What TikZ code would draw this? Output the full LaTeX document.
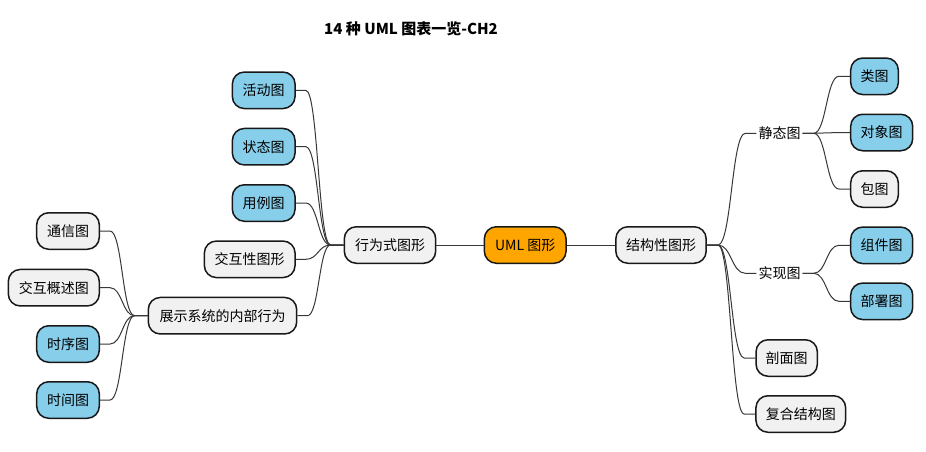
\documentclass[tikz,border=0pt]{standalone}
\usepackage{fontspec}
\setmainfont{Noto Sans CJK SC}
\usetikzlibrary{calc}
\definecolor{boxblue}{HTML}{87CEEB}
\definecolor{boxgray}{HTML}{F1F1F1}
\definecolor{boxorange}{HTML}{FFA500}
\definecolor{edgecol}{HTML}{181818}
\definecolor{conncol}{HTML}{383838}
\tikzset{
  box/.style={draw=edgecol, line width=1.5pt, rounded corners=12pt, minimum height=36.5pt,
    inner sep=0pt, font=\fontsize{14}{16}\selectfont, text=black},
  gbox/.style={box, fill=boxgray},
  bbox/.style={box, fill=boxblue},
  obox/.style={box, fill=boxorange},
  plain/.style={inner xsep=2pt, inner ysep=4pt, font=\fontsize{14}{16}\selectfont, text=black},
  conn/.style={draw=conncol, line width=1pt},
}
% right-going link: parent #1 to child #2
\newcommand\rlink[2]{\draw[conn] let \p1=($(#1.east)+(11,0)$), \p2=($(#2.west)+(-11,0)$) in
  (#1.east) -- (\p1) .. controls (\x1/2+\x2/2,\y1) and (\x1/2+\x2/2,\y2) .. (\p2) -- (#2.west);}
% left-going link: parent #1 to child #2
\newcommand\llink[2]{\draw[conn] let \p1=($(#1.west)+(-13,0)$), \p2=($(#2.east)+(10,0)$) in
  (#1.west) -- (\p1) .. controls (\x1/2+\x2/2,\y1) and (\x1/2+\x2/2,\y2) .. (\p2) -- (#2.east);}
\begin{document}
\begin{tikzpicture}[x=1pt,y=-1pt]
\useasboundingbox (0,0) rectangle (926,451);
\fill[white] (0,0) rectangle (926,451);

\node[font=\bfseries\fontsize{15}{18}\selectfont] (title) at (411,29) {14 种 UML 图表一览-CH2};

% centre
\node[obox, minimum width=81.7pt] (uml) at (525.2,245) {UML 图形};
\node[gbox, minimum width=91.4pt] (beh) at (390,245) {行为式图形};
\node[gbox, minimum width=90.3pt] (str) at (661,245) {结构性图形};

% behavioural side
\node[bbox, minimum width=62.7pt] (act) at (263.7,90.3) {活动图};
\node[bbox, minimum width=62.7pt] (sta) at (263.7,146.7) {状态图};
\node[bbox, minimum width=62.7pt] (use) at (263.7,203) {用例图};
\node[gbox, minimum width=90.7pt] (int) at (249.7,259.3) {交互性图形};
\node[gbox, minimum width=148.4pt] (sys) at (222.5,315.7) {展示系统的内部行为};

\node[gbox, minimum width=62.6pt] (com) at (68,231) {通信图};
\node[gbox, minimum width=91pt] (ovw) at (53.8,287.7) {交互概述图};
\node[bbox, minimum width=62.6pt] (seq) at (68,344) {时序图};
\node[bbox, minimum width=62.6pt] (tim) at (68,400) {时间图};

% structural side
\node[plain] (sat) at (779.5,133.3) {静态图};
\node[bbox, minimum width=47.6pt] (cls) at (874.5,76.3) {类图};
\node[bbox, minimum width=62pt] (obj) at (881.7,132.5) {对象图};
\node[gbox, minimum width=47.6pt] (pkg) at (874.5,189) {包图};

\node[plain] (imp) at (779.5,273.3) {实现图};
\node[bbox, minimum width=62pt] (cmp) at (881.7,245.3) {组件图};
\node[bbox, minimum width=62pt] (dep) at (881.7,301.3) {部署图};

\node[gbox, minimum width=61.3pt] (sec) at (786.7,358) {剖面图};
\node[gbox, minimum width=89.7pt] (cst) at (800.8,414) {复合结构图};

% connectors
\draw[conn] (uml.west) -- (beh.east);
\draw[conn] (uml.east) -- (str.west);

\llink{beh}{act}
\llink{beh}{sta}
\llink{beh}{use}
\llink{beh}{int}
\llink{beh}{sys}

\llink{sys}{com}
\llink{sys}{ovw}
\llink{sys}{seq}
\llink{sys}{tim}

\rlink{str}{sat}
\rlink{str}{imp}
\rlink{str}{sec}
\rlink{str}{cst}

\rlink{sat}{cls}
\rlink{sat}{obj}
\rlink{sat}{pkg}

\rlink{imp}{cmp}
\rlink{imp}{dep}
\end{tikzpicture}
\end{document}
